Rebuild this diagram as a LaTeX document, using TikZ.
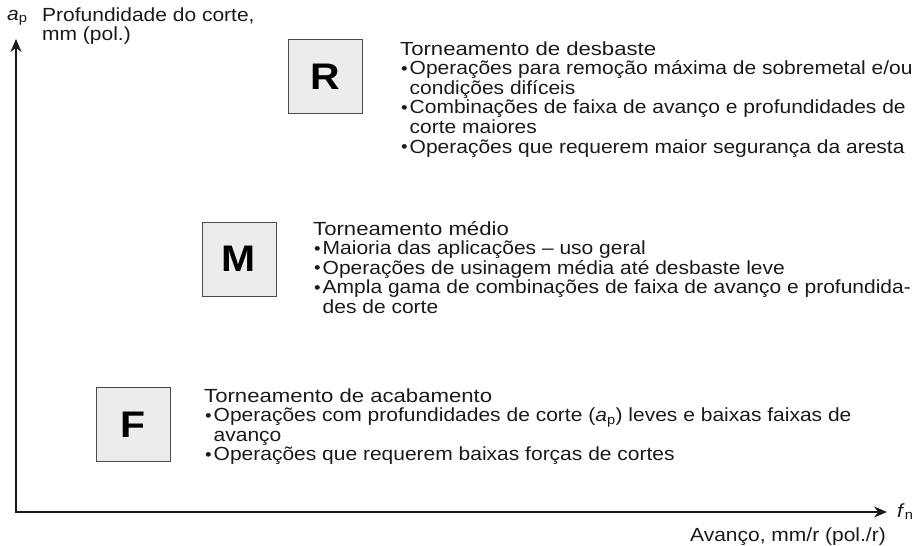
\documentclass[tikz,border=0pt]{standalone}
\usepackage{fontspec}
\setmainfont{Liberation Sans}[FakeStretch=1.105]
\newfontfamily\headfont{Liberation Sans}[FakeStretch=1.165]
\usetikzlibrary{arrows.meta}
\definecolor{ink}{HTML}{1A1A1A}
\definecolor{boxfill}{HTML}{ECECEC}
\definecolor{boxline}{HTML}{4A4A4A}
\newcommand{\bul}{\makebox[9.5pt][l]{\hspace{1pt}\raisebox{0.5pt}{\fontsize{17}{17}\selectfont\textbullet}}}
\newcommand{\ind}{\hspace*{9.5pt}}
\newcommand{\hd}[1]{{\headfont #1}}
\tikzset{
  axis/.style={draw=ink, line width=2pt, -{Stealth[length=13pt,width=11pt]}},
  catbox/.style={draw=boxline, line width=1pt, fill=boxfill, minimum size=74pt, inner sep=0pt,
    font=\fontsize{37}{37}\selectfont\bfseries, text=black},
  block/.style={anchor=base west, inner sep=0pt, align=left, text=ink,
    font=\fontsize{19}{19.6}\selectfont},
  lab/.style={inner sep=0pt, text=ink, font=\fontsize{19}{19.6}\selectfont}
}
\begin{document}
\begin{tikzpicture}[x=1pt,y=-1pt]
\useasboundingbox (0,0) rectangle (916,546);
% axes
\coordinate (O) at (16,512);
\coordinate (Ytip) at (16,39);
\coordinate (Xtip) at (887,512);
\draw[axis] ([yshift=-1pt]O) -- (Ytip);
\draw[axis] ([xshift=-1pt]O) -- (Xtip);
% axis labels (base anchor = last line)
\node[lab, anchor=base west] (ap) at (7,20) {\textit{a}\textsubscript{p}};
\node[lab, anchor=base west, align=left] (ylab) at (42,40.6) {Profundidade do corte,\\mm (pol.)};
\node[lab, anchor=base west] (fn) at (897,517) {\textit{f}\textsubscript{n}};
\node[lab, anchor=base east] (xlab) at (886,541) {Avanço, mm/r (pol./r)};
% category boxes
\node[catbox] (R) at (325,76.5) {R};
\node[catbox] (M) at (239,259) {M};
\node[catbox] (F) at (133,424.5) {F};
% descriptions (base anchor = last line)
\node[block] (Rtxt) at (400,153) {\hd{Torneamento de desbaste}\\
\bul Operações para remoção máxima de sobremetal e/ou\\
\ind condições difíceis\\
\bul Combinações de faixa de avanço e profundidades de\\
\ind corte maiores\\
\bul Operações que requerem maior segurança da aresta};
\node[block] (Mtxt) at (313,313.4) {\hd{Torneamento médio}\\
\bul Maioria das aplicações – uso geral\\
\bul Operações de usinagem média até desbaste leve\\
\bul Ampla gama de combinações de faixa de avanço e profundida-\\
\ind des de corte};
\node[block] (Ftxt) at (204,460.8) {\hd{Torneamento de acabamento}\\
\bul Operações com profundidades de corte (\textit{a}\textsubscript{p}) leves e baixas faixas de\\
\ind avanço\\
\bul Operações que requerem baixas forças de cortes};
\end{tikzpicture}
\end{document}
